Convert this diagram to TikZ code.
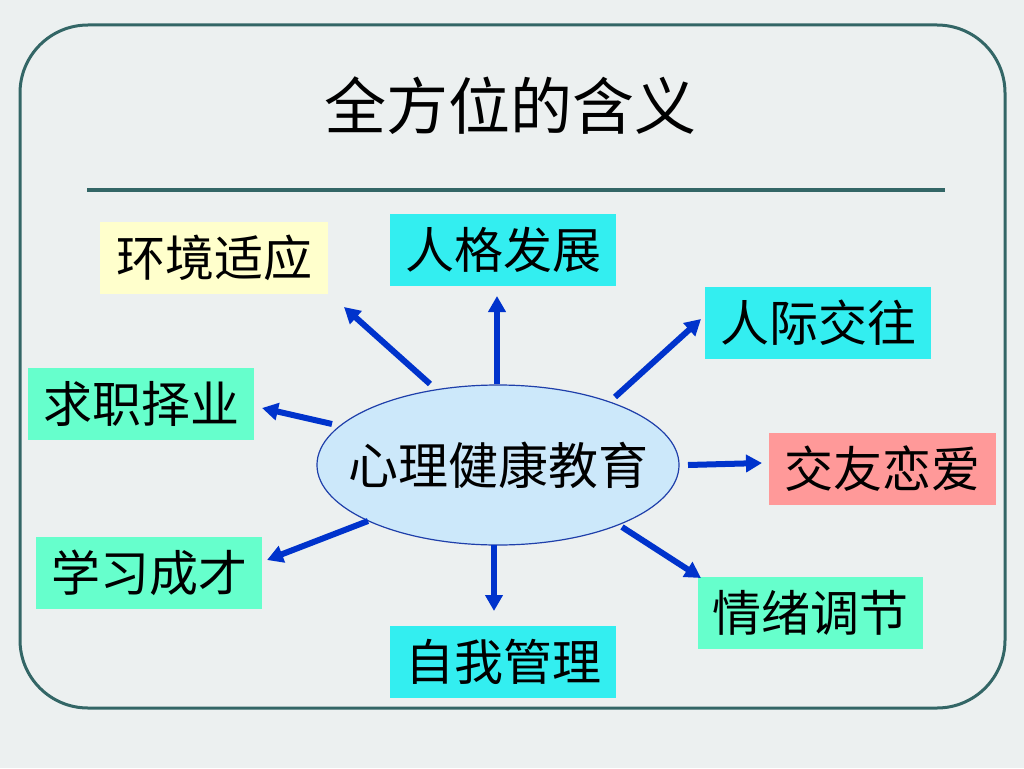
\documentclass[tikz,border=0pt]{standalone}
\usepackage{fontspec}
\newfontfamily\cjk{Noto Sans CJK SC}
\usetikzlibrary{shapes.geometric,arrows.meta}
\definecolor{bgc}{RGB}{236,240,240}
\definecolor{framec}{RGB}{51,102,102}
\definecolor{arrc}{RGB}{0,51,204}
\definecolor{cyanc}{RGB}{51,238,240}
\definecolor{aquac}{RGB}{102,255,204}
\definecolor{yelc}{RGB}{255,255,204}
\definecolor{pinkc}{RGB}{255,153,153}
\definecolor{ellc}{RGB}{204,232,250}
\definecolor{elld}{RGB}{31,63,170}
\tikzset{
  box/.style={draw=none, minimum width=226pt, minimum height=72pt, inner sep=0pt,
    font=\cjk\fontsize{49}{52}\selectfont, text=black},
  arr/.style={draw=arrc, line width=6pt, -{Triangle[length=16pt,width=17pt]}},
}
\begin{document}
\begin{tikzpicture}[x=1pt,y=-1pt]
\useasboundingbox (0,0) rectangle (1024,768);
\fill[bgc] (0,0) rectangle (1024,768);
\draw[framec, line width=3pt, rounded corners=68pt] (20,25) rectangle (1005,708);
\node[font=\cjk\fontsize{62}{66}\selectfont] (title) at (510,106) {全方位的含义};
\draw[framec, line width=3.5pt] (87,190) -- (945,190);

\node[ellipse, draw=elld, line width=1.2pt, fill=ellc, minimum width=362pt, minimum height=160pt,
  font=\cjk\fontsize{50}{54}\selectfont, inner xsep=-22pt, inner ysep=0pt] (ell) at (498,465) {心理健康教育};

\node[box, fill=yelc, minimum width=228pt] (b1) at (214,258) {环境适应};
\node[box, fill=cyanc] (b2) at (503,250) {人格发展};
\node[box, fill=cyanc] (b3) at (818,323) {人际交往};
\node[box, fill=aquac] (b4) at (141,404) {求职择业};
\node[box, fill=pinkc, minimum width=227pt] (b5) at (882,469) {交友恋爱};
\node[box, fill=aquac] (b6) at (149,573) {学习成才};
\node[box, fill=aquac, minimum width=225pt] (b7) at (810,613) {情绪调节};
\node[box, fill=cyanc] (b8) at (503,662) {自我管理};

\coordinate (s1) at (430,384); \coordinate (e1) at (344,307);
\coordinate (s2) at (497,384); \coordinate (e2) at (497,296);
\coordinate (s3) at (615,397); \coordinate (e3) at (701,319);
\coordinate (s4) at (332,424); \coordinate (e4) at (262,408);
\coordinate (s5) at (688,465); \coordinate (e5) at (762,463);
\coordinate (s6) at (368,521); \coordinate (e6) at (267,560);
\coordinate (s7) at (622,527); \coordinate (e7) at (701,578);
\coordinate (s8) at (494,545); \coordinate (e8) at (494,611);
\foreach \i in {1,...,8} { \draw[arr] (s\i) -- (e\i); }
\end{tikzpicture}
\end{document}
